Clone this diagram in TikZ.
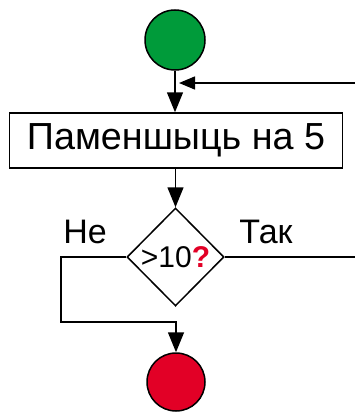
\documentclass[tikz,border=0pt]{standalone}
\usepackage{fontspec}
\setmainfont{Liberation Sans}
\usetikzlibrary{shapes.geometric,arrows.meta}
\definecolor{startgreen}{RGB}{0,155,58}
\definecolor{endred}{RGB}{226,0,38}
\tikzset{
  ln/.style={line width=1.5pt, draw=black},
  arr/.style={ln, -{Triangle[length=20pt,width=16pt]}},
  sarr/.style={ln, -{Triangle[length=16pt,width=13pt]}},
  term/.style={circle, ln, minimum size=#1, inner sep=0pt},
  procbox/.style={rectangle, ln, minimum width=333pt, minimum height=55pt, inner sep=0pt, font=\fontsize{37.7pt}{40pt}\selectfont},
  decbox/.style={diamond, ln, minimum width=97pt, minimum height=98pt, inner sep=0pt, font=\fontsize{30pt}{32pt}\selectfont},
  lbl/.style={anchor=base, inner sep=0pt, font=\fontsize{34pt}{36pt}\selectfont}
}
\begin{document}
\begin{tikzpicture}[x=1pt,y=-1pt]
\useasboundingbox (0,0) rectangle (355,412);
\node[term=60pt, fill=startgreen] (start) at (175,40) {};
\node[procbox] (proc) at (176,140.5) {Паменшыць на 5};
\node[decbox] (dec) at (175.5,257) {\raisebox{-1.5pt}{>10\textcolor{endred}{\textbf{?}}}};
\node[term=58pt, fill=endred] (end) at (176,382) {};
\node[lbl] (no) at (85,243) {Не};
\node[lbl] (yes) at (266,243) {Так};
\coordinate (loopin) at (355,83);
\coordinate (loopjoin) at (179,83);
\coordinate (yesout) at (355,257);
\coordinate (nocorner) at (61,322);
\draw[arr] (start.south) -- (proc.north -| start.south);
\draw[sarr] (loopin) -- (loopjoin);
\draw[arr] (proc.south -| dec.north) -- (dec.north);
\draw[ln] (dec.east) -- (yesout);
\draw[arr] (dec.west) -| (nocorner) -| (end.north);
\end{tikzpicture}
\end{document}
